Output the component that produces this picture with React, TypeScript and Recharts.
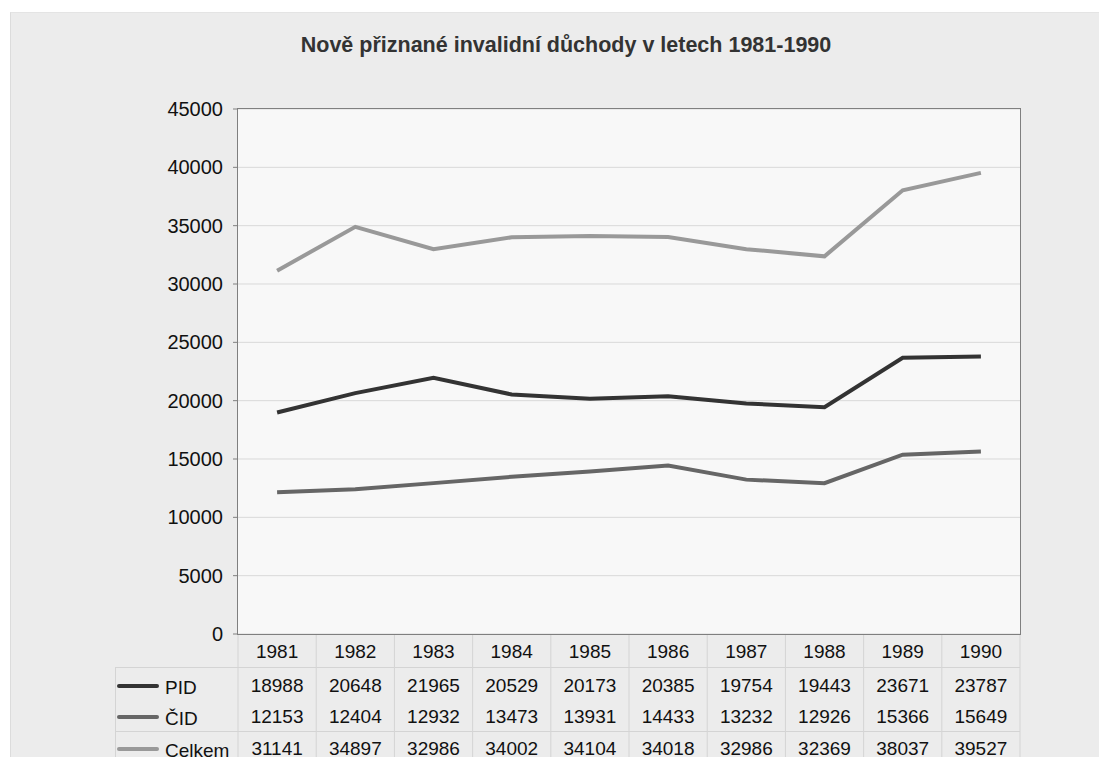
import { LineChart, Line, XAxis, YAxis, CartesianGrid } from 'recharts';

const years = ['1981', '1982', '1983', '1984', '1985', '1986', '1987', '1988', '1989', '1990'];
const pid = [18988, 20648, 21965, 20529, 20173, 20385, 19754, 19443, 23671, 23787];
const cid = [12153, 12404, 12932, 13473, 13931, 14433, 13232, 12926, 15366, 15649];
const celkem = [31141, 34897, 32986, 34002, 34104, 34018, 32986, 32369, 38037, 39527];
const yTicks = [0, 5000, 10000, 15000, 20000, 25000, 30000, 35000, 40000, 45000];

const series = [
  { key: 'PID', name: 'PID', values: pid, color: '#333333' },
  { key: 'CID', name: 'ČID', values: cid, color: '#666666' },
  { key: 'Celkem', name: 'Celkem', values: celkem, color: '#999999' },
];

const data = years.map((year, i) => ({
  year,
  PID: pid[i],
  CID: cid[i],
  Celkem: celkem[i],
}));

const FONT = '"Liberation Sans", Arial, sans-serif';
const HALF = 39.1;
const GRID = '#d4d4d4';
const rowY = [685, 716, 748];

// year label plus the data table column under each category
function TableTick(props: any) {
  const { x, payload, index } = props;
  const top = 634;
  const bottom = 760;
  return (
    <g fontFamily={FONT} fontSize={19} fill="#111">
      <line x1={x + HALF} x2={x + HALF} y1={top} y2={bottom} stroke={GRID} />
      {index === 0 && <line x1={x - HALF} x2={x - HALF} y1={top} y2={bottom} stroke={GRID} />}
      <line x1={x - HALF} x2={x + HALF} y1={667.5} y2={667.5} stroke={GRID} />
      <line x1={x - HALF} x2={x + HALF} y1={731.5} y2={731.5} stroke={GRID} />
      <text x={x} y={651} textAnchor="middle" dominantBaseline="central">
        {payload.value}
      </text>
      {series.map((s, r) => (
        <text key={s.key} x={x} y={rowY[r]} textAnchor="middle" dominantBaseline="central">
          {s.values[index]}
        </text>
      ))}
      {index === 0 && (
        <g>
          <line x1={115.5} x2={115.5} y1={667} y2={bottom} stroke={GRID} />
          <line x1={115} x2={x - HALF} y1={667.5} y2={667.5} stroke={GRID} />
          <line x1={115} x2={x - HALF} y1={731.5} y2={731.5} stroke={GRID} />
          {series.map((s, r) => (
            <g key={s.key}>
              <line x1={119} x2={157} y1={rowY[r] + 1} y2={rowY[r] + 1} stroke={s.color} strokeWidth={4} strokeLinecap="round" />
              <text x={165} y={rowY[r] + 2} dominantBaseline="central">
                {s.name}
              </text>
            </g>
          ))}
        </g>
      )}
    </g>
  );
}

export default function App() {
  return (
    <div style={{ position: 'absolute', left: 0, top: 0, width: 1099, height: 757, background: '#fff', overflow: 'hidden' }}>
      <div
        style={{
          position: 'absolute',
          left: 10,
          top: 12,
          width: 1089,
          height: 745,
          background: '#ececec',
          borderLeft: '1px solid #dcdcdc',
          borderTop: '1px solid #e4e4e4',
        }}
      />
      <div
        style={{
          position: 'absolute',
          left: 0,
          top: 31,
          width: 1132,
          textAlign: 'center',
          fontFamily: FONT,
          fontWeight: 'bold',
          fontSize: 21.5,
          lineHeight: '28px',
          color: '#333',
        }}
      >
        Nově přiznané invalidní důchody v letech 1981-1990
      </div>
      <div style={{ position: 'absolute', left: 0, top: 0 }}>
        <LineChart width={1099} height={757} data={data} margin={{ top: 109, right: 79, bottom: 0, left: 178 }}>
          <CartesianGrid vertical={false} stroke="#d9d9d9" fill="#f8f8f8" />
          <XAxis
            dataKey="year"
            padding={{ left: HALF, right: HALF }}
            axisLine={false}
            tickLine={false}
            tickSize={0}
            tickMargin={0}
            interval={0}
            height={123}
            tick={<TableTick />}
          />
          <YAxis
            domain={[0, 45000]}
            ticks={yTicks}
            width={60}
            axisLine={false}
            tickSize={5}
            tickMargin={10}
            tickLine={{ stroke: '#808080' }}
            tick={{ fontFamily: FONT, fontSize: 20, fill: '#111' }}
          />
          {series.map((s) => (
            <Line
              key={s.key}
              dataKey={s.key}
              name={s.name}
              stroke={s.color}
              strokeWidth={4}
              dot={false}
              type="linear"
              isAnimationActive={false}
            />
          ))}
        </LineChart>
      </div>
      <div
        style={{
          position: 'absolute',
          left: 237,
          top: 108,
          width: 782,
          height: 525,
          border: '1.5px solid #7f7f7f',
          pointerEvents: 'none',
        }}
      />
    </div>
  );
}
